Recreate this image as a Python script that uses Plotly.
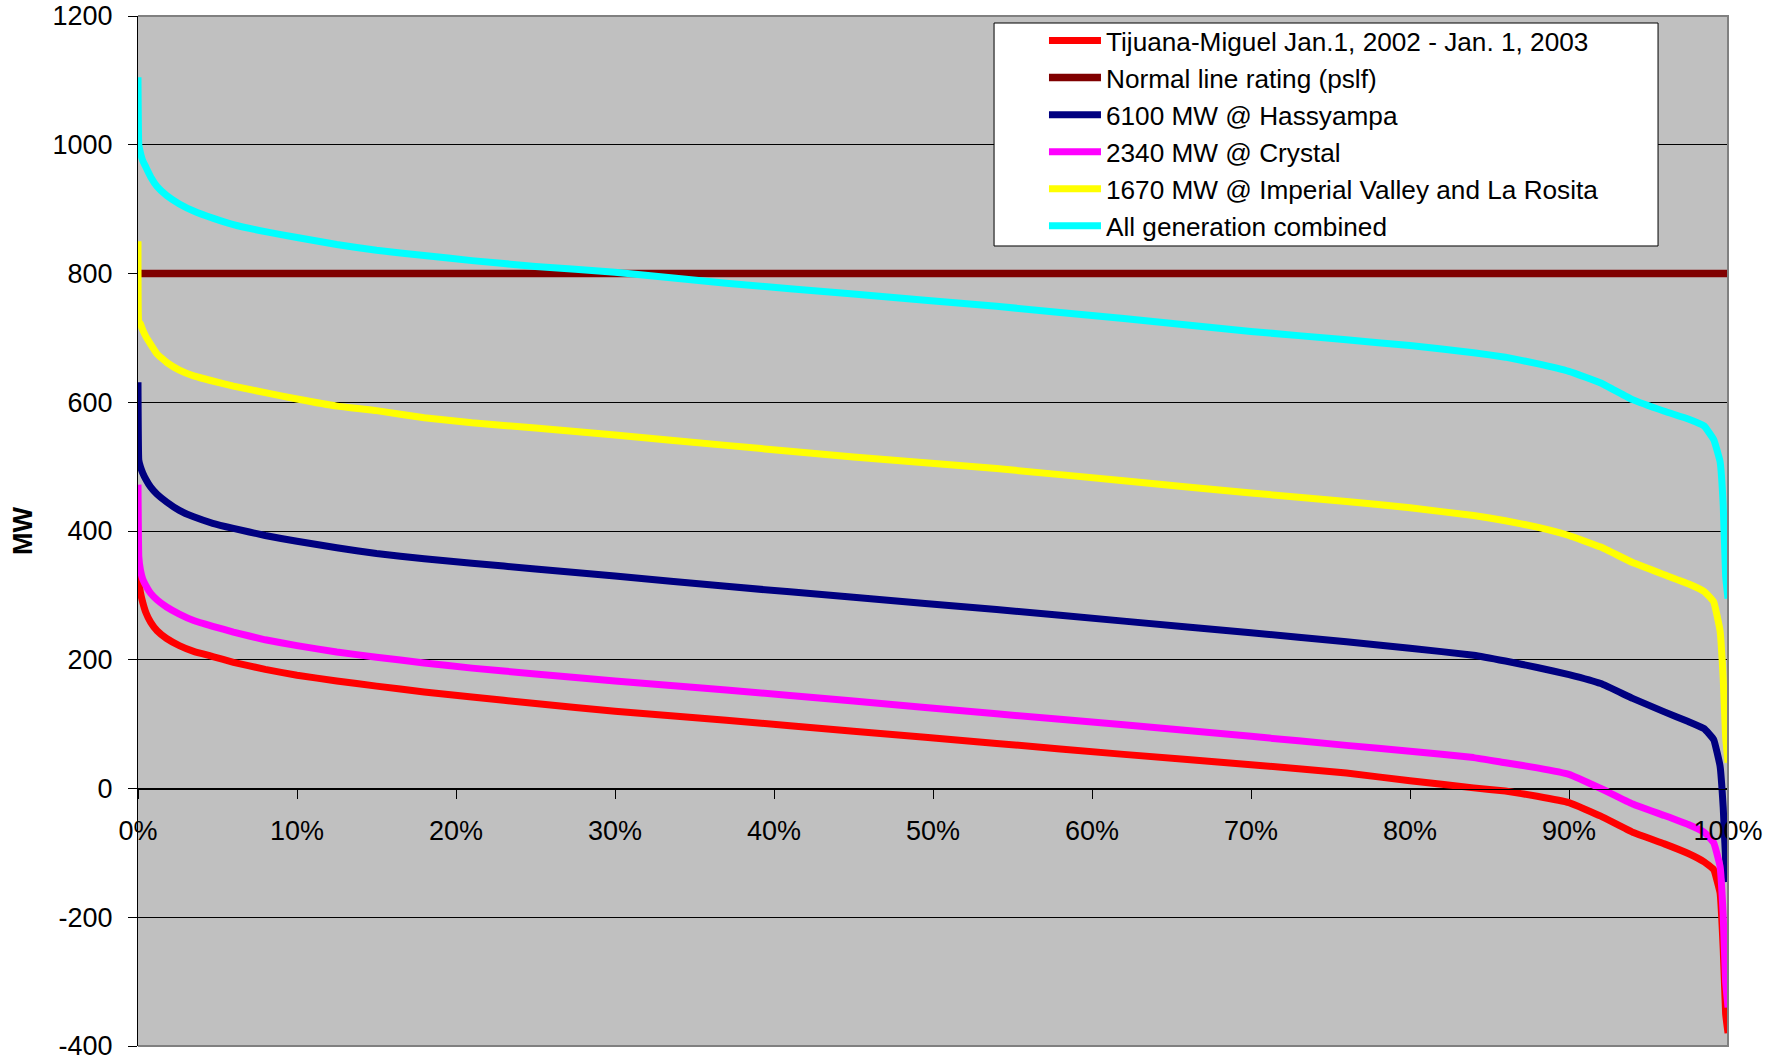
import plotly.graph_objects as go

# Percent of time (x axis, %)
pct = [0, 0.05, 0.15, 0.3, 0.5, 0.8, 1.2, 1.8, 2.6, 3.5, 4.7, 6, 8, 10, 12.5, 15, 18, 21, 25, 30,
       37, 45, 54, 62, 70, 76, 80, 84, 86, 88, 90, 92, 94, 96, 97.5, 98.5, 99.1, 99.5, 99.7, 99.85, 100]

tijuana = [345, 325, 305, 289, 273, 258, 245, 233, 222, 213, 205, 196, 185, 176, 167, 159, 150, 142, 132, 120,
           106, 89, 70, 53, 37, 24, 12, 1, -4, -12, -22, -43, -68, -86, -101, -114, -126, -162, -250, -350, -380]
rating_x = [0, 100]
rating = [800, 800]
hassyampa = [631, 510, 500, 490, 480, 468, 457, 445, 432, 422, 412, 404, 393, 384, 374, 365, 357, 350, 341, 330,
             314, 297, 278, 260, 242, 228, 218, 207, 198, 188, 177, 163, 140, 119, 104, 93, 76, 35, -30, -110, -145]
crystal = [472, 360, 340, 325, 315, 303, 293, 282, 271, 261, 252, 243, 231, 222, 212, 204, 195, 187, 178, 167,
           153, 136, 116, 99, 81, 67, 58, 48, 40, 32, 22, 0, -24, -42, -56, -68, -84, -121, -198, -300, -340]
imperial = [850, 725, 722, 712, 702, 690, 675, 662, 650, 641, 633, 625, 615, 605, 594, 587, 576, 568, 560, 549,
            533, 515, 497, 478, 459, 446, 436, 424, 416, 406, 393, 375, 351, 332, 318, 306, 290, 245, 170, 80, 40]
combined = [1105, 1000, 988, 975, 965, 950, 935, 921, 908, 897, 886, 876, 865, 856, 845, 836, 828, 820, 811, 802,
            785, 768, 749, 730, 710, 697, 688, 677, 670, 660, 648, 630, 604, 586, 574, 563, 542, 508, 440, 330, 295]

names = ["Tijuana-Miguel Jan.1, 2002 - Jan. 1, 2003", "Normal line rating (pslf)", "6100 MW @ Hassyampa",
         "2340 MW @ Crystal", "1670 MW @ Imperial Valley and La Rosita", "All generation combined"]
colors = ["#FF0000", "#800000", "#000080", "#FF00FF", "#FFFF00", "#00FFFF"]
y_ticks = [-400, -200, 0, 200, 400, 600, 800, 1000, 1200]
y_labels = ["-400", "-200", "0", "200", "400", "600", "800", "1000", "1200"]
x_ticks = [0, 10, 20, 30, 40, 50, 60, 70, 80, 90, 100]
x_labels = ["0%", "10%", "20%", "30%", "40%", "50%", "60%", "70%", "80%", "90%", "100%"]

FONT = "Liberation Sans, Arial, sans-serif"

fig = go.Figure()
series = [(pct, tijuana), (rating_x, rating), (pct, hassyampa), (pct, crystal), (pct, imperial), (pct, combined)]
for (xs, ys), name, col in zip(series, names, colors):
    fig.add_trace(go.Scatter(x=xs, y=ys, mode="lines", name=name, cliponaxis=True,
                             line=dict(color=col, width=7.5 if col == "#800000" else 7,
                                       shape="spline", smoothing=0.3)))

fig.update_layout(
    width=1784, height=1060,
    margin=dict(l=138, r=56, t=16, b=14, autoexpand=False),
    paper_bgcolor="white", plot_bgcolor="#C0C0C0",
    font=dict(family=FONT, color="black", size=27),
    showlegend=True,
    legend=dict(x=0.5698, y=0.999, xanchor="left", yanchor="top", bgcolor="rgba(0,0,0,0)",
                borderwidth=0, font=dict(size=26.2, family=FONT, color="black"), itemwidth=52,
                traceorder="normal"),
    xaxis=dict(range=[0, 100], tickvals=x_ticks, ticktext=x_labels, anchor="free", position=0.25,
               showgrid=False, zeroline=False, showline=True, linecolor="black", linewidth=1,
               ticks="outside", ticklen=9, tickcolor="black", tickfont=dict(size=27),
               ticklabelstandoff=9, automargin=False, ticklabeloverflow="allow"),
    yaxis=dict(range=[-400, 1200], tickvals=y_ticks, ticktext=y_labels, showgrid=True,
               gridcolor="#000000", gridwidth=1,
               zeroline=False, showline=True, linecolor="black", linewidth=1,
               ticks="outside", ticklen=9, tickcolor="black", tickfont=dict(size=27),
               ticklabelstandoff=10, automargin=False, ticklabeloverflow="allow",
               title=dict(text="MW", font=dict(size=27, weight="bold"), standoff=12)),
    shapes=[
        dict(type="path", xref="paper", yref="paper", path="M 0,1 L 1,1 L 1,0 L 0,0",
             line=dict(color="#808080", width=2), layer="above"),
        dict(type="rect", xref="paper", yref="paper", x0=0.5384, x1=0.956, y0=0.7767, y1=0.9932,
             fillcolor="white", line=dict(color="black", width=1), layer="above"),
    ],
)

fig.write_html("out.html", config={"displayModeBar": False},
               post_script="document.body.style.margin='0';document.body.style.overflow='hidden';")
